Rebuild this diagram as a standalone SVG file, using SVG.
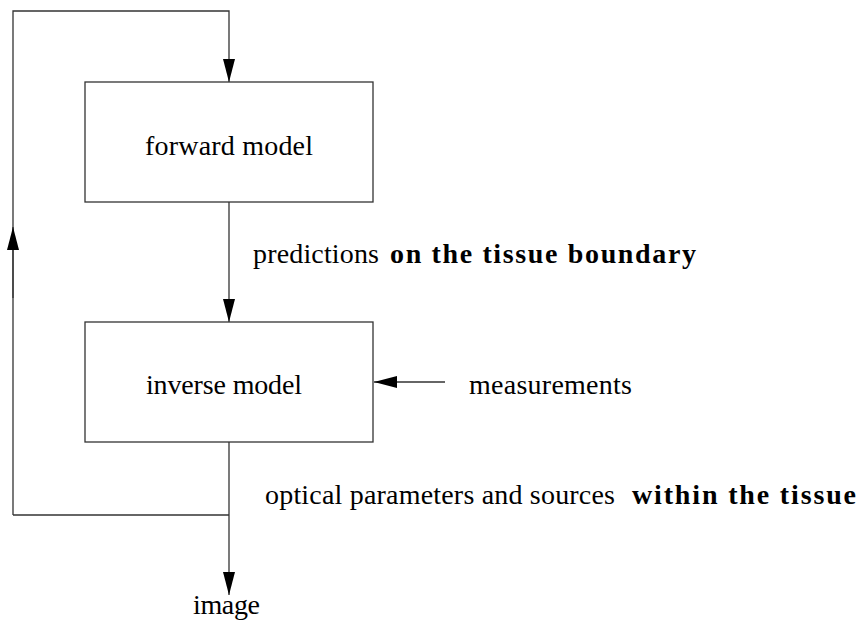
<svg xmlns="http://www.w3.org/2000/svg" width="857" height="627" viewBox="0 0 857 627">
<defs>
<style>
.box{fill:none;stroke:#333;stroke-width:1.3}
.ln{fill:none;stroke:#333;stroke-width:1.3}
text{font-family:"Liberation Serif","Times New Roman",serif;font-size:28px;fill:#000}
.b{font-weight:bold}
</style>
<marker id="ah" viewBox="0 0 23 12" refX="23" refY="6" markerWidth="23" markerHeight="12" markerUnits="userSpaceOnUse" orient="auto">
<path d="M0,0 L23,6 L0,12 Z" fill="#000"/>
</marker>
</defs>
<g id="connectors">
<polyline class="ln" points="13,515 13,11 229,11 229,82" marker-end="url(#ah)"/>
<line class="ln" x1="13" y1="298" x2="13" y2="227" marker-end="url(#ah)"/>
<line class="ln" x1="229" y1="202" x2="229" y2="322" marker-end="url(#ah)"/>
<line class="ln" x1="445" y1="382" x2="374" y2="382" marker-end="url(#ah)"/>
<line class="ln" x1="229" y1="442" x2="229" y2="595" marker-end="url(#ah)"/>
<line class="ln" x1="13" y1="515" x2="229" y2="515"/>
<text x="253" y="263" textLength="126">predictions</text>
<text class="b" x="390" y="263" textLength="306">on the tissue boundary</text>
<text x="469" y="394" textLength="163">measurements</text>
<text x="265" y="504" textLength="350">optical parameters and sources</text>
<text class="b" x="632" y="504" textLength="224">within the tissue</text>
<text x="193" y="614" textLength="67">image</text>
</g>
<g id="forward">
<rect class="box" x="85" y="82" width="288" height="120"/>
<text x="145" y="155" textLength="168">forward model</text>
</g>
<g id="inverse">
<rect class="box" x="85" y="322" width="288" height="120"/>
<text x="146" y="394" textLength="156">inverse model</text>
</g>
</svg>
